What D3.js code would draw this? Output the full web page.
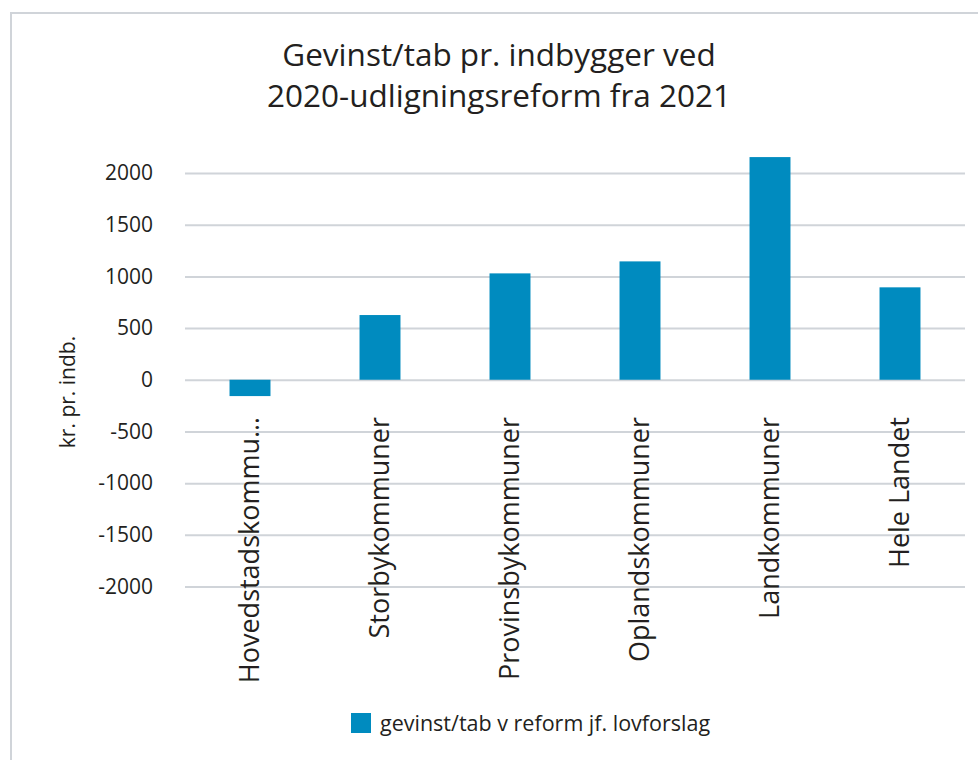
<!DOCTYPE html>
<html>
<head>
<meta charset="utf-8">
<script src="https://cdn.jsdelivr.net/npm/d3@7"></script>
<style>
  body { margin: 0; background: #fff; }
  svg { display: block; font-family: "Open Sans", sans-serif; }
</style>
</head>
<body>
<div id="chart"></div>
<script>
const width = 978;
const height = 760;

// data
const categories = ["Hovedstadskommu…", "Storbykommuner", "Provinsbykommuner", "Oplandskommuner", "Landkommuner", "Hele Landet"];
const values = [-158, 626, 1029, 1145, 2154, 894];
const yTicks = [2000, 1500, 1000, 500, 0, -500, -1000, -1500, -2000];
const titleLines = ["Gevinst/tab pr. indbygger ved", "2020-udligningsreform fra 2021"];
const yLabel = "kr. pr. indb.";
const seriesName = "gevinst/tab v reform jf. lovforslag";

const barColor = "#008bbf";
const gridColor = "#d0d4d9";
const textColor = "#231f20";

const plot = { left: 185, right: 965, top: 173, bottom: 586.5 };

const svg = d3.select("#chart")
    .append("svg")
    .attr("width", width)
    .attr("height", height);

// outer frame
svg.append("rect")
    .attr("x", 11)
    .attr("y", 13)
    .attr("width", width)
    .attr("height", height)
    .attr("fill", "none")
    .attr("stroke", gridColor)
    .attr("stroke-width", 2);

const x = d3.scaleBand()
    .domain(categories)
    .range([plot.left, plot.right])
    .paddingInner(0.685)
    .paddingOuter(0.3425);

const y = d3.scaleLinear()
    .domain([-2000, 2000])
    .range([plot.bottom, plot.top]);

// y axis with gridlines
const yAxis = svg.append("g")
    .attr("transform", `translate(${plot.left},0)`)
    .call(d3.axisLeft(y)
        .tickValues(yTicks)
        .tickSize(-(plot.right - plot.left))
        .tickPadding(32)
        .tickFormat(d => String(d)));

yAxis.select(".domain").remove();
yAxis.selectAll(".tick line")
    .attr("stroke", gridColor)
    .attr("stroke-width", 2);
yAxis.selectAll(".tick text")
    .attr("fill", textColor)
    .style("font-size", "21px")
    .style("font-family", "'Open Sans', sans-serif");

// bars
svg.selectAll(".bar")
    .data(values)
    .enter()
    .append("rect")
    .attr("class", "bar")
    .attr("x", (d, i) => x(categories[i]))
    .attr("y", d => y(Math.max(0, d)))
    .attr("width", x.bandwidth())
    .attr("height", d => Math.abs(y(d) - y(0)))
    .attr("fill", barColor);

// category labels, rotated
svg.selectAll(".xlabel")
    .data(categories)
    .enter()
    .append("text")
    .attr("class", "xlabel")
    .attr("transform", d => `translate(${x(d) + x.bandwidth() / 2},417) rotate(-90)`)
    .attr("dy", "0.32em")
    .attr("text-anchor", "end")
    .attr("fill", textColor)
    .style("font-size", "27px")
    .text(d => d);

// title, two lines
svg.selectAll(".title")
    .data(titleLines)
    .enter()
    .append("text")
    .attr("class", "title")
    .attr("x", 499)
    .attr("y", (d, i) => 66 + i * 41)
    .attr("text-anchor", "middle")
    .attr("fill", textColor)
    .style("font-size", "31.5px")
    .text(d => d);

// y axis title
svg.append("text")
    .attr("transform", "translate(75,392) rotate(-90)")
    .attr("text-anchor", "middle")
    .attr("fill", textColor)
    .style("font-size", "21px")
    .text(yLabel);

// legend
const legend = svg.append("g")
    .attr("transform", "translate(351,713)");

legend.append("rect")
    .attr("width", 20)
    .attr("height", 20)
    .attr("fill", barColor);

legend.append("text")
    .attr("x", 29)
    .attr("y", 18)
    .attr("fill", textColor)
    .style("font-size", "21.5px")
    .text(seriesName);
</script>
</body>
</html>
